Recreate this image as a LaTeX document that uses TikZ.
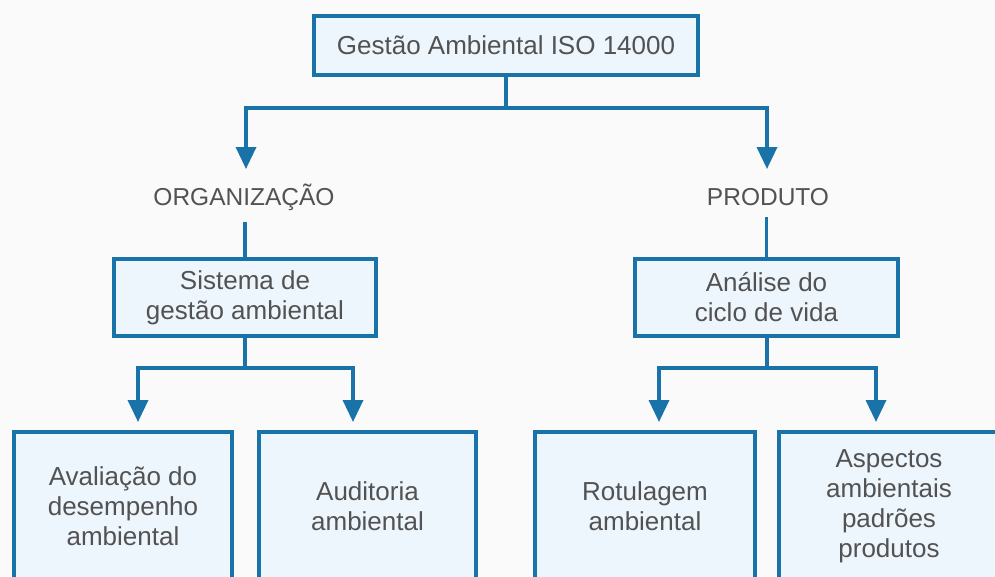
\documentclass[tikz,border=0pt]{standalone}
\usepackage{fontspec}
\setmainfont{Liberation Sans}
\usepackage{xcolor}
\usetikzlibrary{arrows.meta}
\definecolor{isoblue}{HTML}{1A73A8}
\definecolor{boxfill}{HTML}{EEF6FD}
\definecolor{txtgray}{HTML}{525252}
\definecolor{bgpage}{HTML}{FAFAFA}
\begin{document}
\begin{tikzpicture}[x=1pt, y=-1pt,
  box/.style={rectangle, draw=isoblue, fill=boxfill, line width=4pt, text=txtgray, align=center, font=\fontsize{26}{30}\selectfont, inner sep=0pt},
  grouplabel/.style={text=txtgray, font=\fontsize{24.5}{28}\selectfont, anchor=base, inner xsep=0pt, inner ysep=12pt},
  conn/.style={draw=isoblue, line width=3.5pt},
  arrow/.style={conn, -{Triangle[width=20pt, length=22pt]}}
]

\path[use as bounding box, fill=bgpage] (0,0) rectangle (995,576);

\node[box, minimum width=384pt, minimum height=59pt] (iso) at (506,45.5) {Gestão Ambiental ISO 14000};

\node[grouplabel] (org) at (244,205) {ORGANIZAÇÃO};
\node[grouplabel] (prod) at (768,205) {PRODUTO};

\node[box, minimum width=262pt, minimum height=77pt] (sis) at (245,297.5) {Sistema de\\gestão ambiental};
\node[box, minimum width=263pt, minimum height=77pt] (acv) at (766.5,297.5) {Análise do\\ciclo de vida};

\node[box, minimum width=218pt, minimum height=148pt] (aval) at (123,506) {Avaliação do\\desempenho\\ambiental};
\node[box, minimum width=217pt, minimum height=148pt] (aud) at (367.5,506) {Auditoria\\ambiental};
\node[box, minimum width=220pt, minimum height=148pt] (rot) at (645,506) {Rotulagem\\ambiental};
\node[box, minimum width=220pt, minimum height=148pt] (asp) at (889,506) {Aspectos\\ambientais\\padrões\\produtos};

\coordinate (j1) at (506,108);
\coordinate (orgtip) at (246,169);
\coordinate (prodtip) at (767,169);
\coordinate (j2) at (245,368);
\coordinate (avaltip) at (138,422);
\coordinate (audtip) at (353,422);
\coordinate (j3) at (767,368);
\coordinate (rottip) at (659,422);
\coordinate (asptip) at (876,422);

\draw[conn] (iso.south) -- (j1);
\draw[arrow] (j1) -| (orgtip);
\draw[arrow] (j1) -| (prodtip);

\draw[conn] (org.south -| sis.north) -- (sis.north);
\draw[conn] (prod.south -| acv.north) -- (acv.north);

\draw[conn] (sis.south) -- (j2);
\draw[arrow] (j2) -| (avaltip);
\draw[arrow] (j2) -| (audtip);

\draw[conn] (acv.south -| j3) -- (j3);
\draw[arrow] (j3) -| (rottip);
\draw[arrow] (j3) -| (asptip);

\end{tikzpicture}
\end{document}
